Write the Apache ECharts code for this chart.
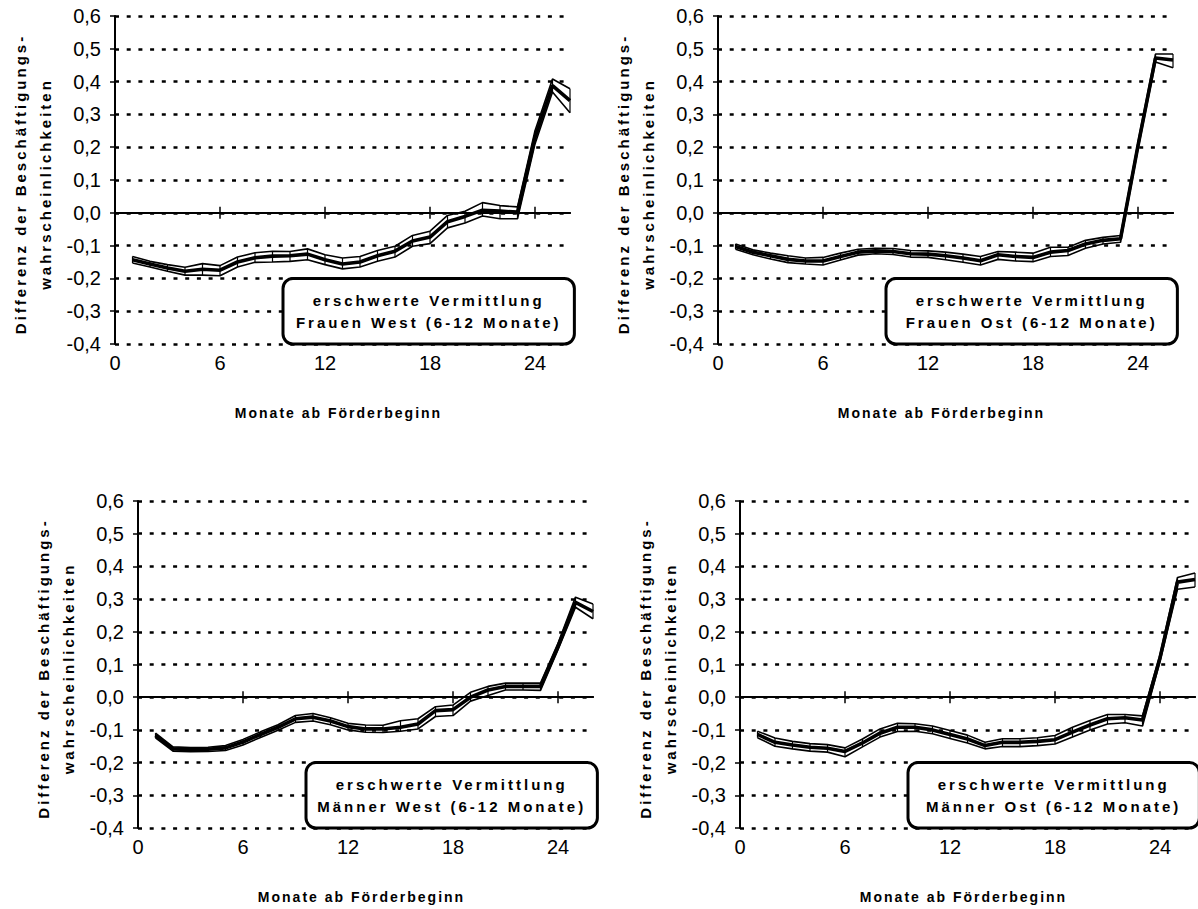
<!DOCTYPE html>
<html>
<head>
<meta charset="utf-8">
<script src="https://cdn.jsdelivr.net/npm/echarts@6/dist/echarts.min.js"></script>
<style>
  html, body { margin: 0; padding: 0; background: #fff; }
  #chart { width: 1198px; height: 909px; }
  #chart text[style*="bold"][style*="15px"] { letter-spacing: 3px; }
  #chart text[style*="bold"][style*="14px"] { letter-spacing: 2px; }
</style>
</head>
<body>
<div id="chart"></div>
<script>
// ---- data ----
const months = [1,2,3,4,5,6,7,8,9,10,11,12,13,14,15,16,17,18,19,20,21,22,23,24,25,26];
const xTickLabels = [0, 6, 12, 18, 24];
const xTickMarks = [6, 12, 18, 24];
const yMin = -0.4, yMax = 0.6, yStep = 0.1;

const xTitle = 'Monate ab Förderbeginn';
const yTitle = ['Differenz der Beschäftigungs-', 'wahrscheinlichkeiten'];

const boxFW = ['erschwerte Vermittlung', 'Frauen West (6-12 Monate)'];
const boxFO = ['erschwerte Vermittlung', 'Frauen Ost (6-12 Monate)'];
const boxMW = ['erschwerte Vermittlung', 'Männer West (6-12 Monate)'];
const boxMO = ['erschwerte Vermittlung', 'Männer Ost (6-12 Monate)'];

// Frauen West
const fwMid = [-0.143,-0.156,-0.168,-0.178,-0.172,-0.175,-0.150,-0.137,-0.132,-0.131,-0.126,-0.143,-0.156,-0.150,-0.131,-0.117,-0.086,-0.074,-0.027,-0.011,0.008,0.005,0.002,0.230,0.388,0.342];
const fwUp  = [-0.133,-0.148,-0.158,-0.166,-0.155,-0.161,-0.135,-0.122,-0.117,-0.118,-0.110,-0.128,-0.138,-0.133,-0.115,-0.102,-0.069,-0.056,-0.008,0.005,0.031,0.022,0.018,0.250,0.408,0.378];
const fwLow = [-0.153,-0.165,-0.178,-0.190,-0.190,-0.192,-0.165,-0.151,-0.150,-0.148,-0.143,-0.158,-0.171,-0.165,-0.148,-0.135,-0.102,-0.094,-0.046,-0.031,-0.010,-0.018,-0.018,0.210,0.368,0.305];

// Frauen Ost
const foMid = [-0.103,-0.120,-0.131,-0.142,-0.147,-0.147,-0.133,-0.120,-0.116,-0.118,-0.125,-0.126,-0.131,-0.138,-0.146,-0.128,-0.133,-0.136,-0.120,-0.115,-0.095,-0.084,-0.079,0.205,0.472,0.466];
const foUp  = [-0.095,-0.113,-0.123,-0.131,-0.138,-0.136,-0.123,-0.111,-0.108,-0.109,-0.115,-0.116,-0.120,-0.126,-0.133,-0.118,-0.120,-0.123,-0.105,-0.105,-0.084,-0.075,-0.069,0.215,0.484,0.484];
const foLow = [-0.111,-0.128,-0.141,-0.152,-0.156,-0.159,-0.144,-0.129,-0.125,-0.127,-0.135,-0.136,-0.143,-0.151,-0.159,-0.142,-0.147,-0.149,-0.133,-0.130,-0.108,-0.095,-0.090,0.195,0.460,0.442];

// Männer West
const mwMid = [-0.117,-0.158,-0.160,-0.159,-0.155,-0.137,-0.114,-0.092,-0.066,-0.061,-0.073,-0.090,-0.097,-0.097,-0.092,-0.082,-0.041,-0.038,0.000,0.022,0.033,0.033,0.033,0.155,0.290,0.262];
const mwUp  = [-0.110,-0.152,-0.154,-0.153,-0.148,-0.129,-0.106,-0.084,-0.056,-0.050,-0.063,-0.080,-0.085,-0.086,-0.072,-0.066,-0.029,-0.024,0.015,0.033,0.043,0.043,0.043,0.165,0.306,0.285];
const mwLow = [-0.124,-0.165,-0.167,-0.166,-0.163,-0.146,-0.123,-0.101,-0.077,-0.073,-0.084,-0.100,-0.107,-0.108,-0.104,-0.097,-0.059,-0.056,-0.012,0.005,0.022,0.022,0.021,0.145,0.275,0.240];

// Männer Ost
const moMid = [-0.114,-0.138,-0.146,-0.153,-0.156,-0.166,-0.140,-0.110,-0.092,-0.092,-0.100,-0.114,-0.128,-0.148,-0.138,-0.138,-0.135,-0.130,-0.107,-0.085,-0.066,-0.063,-0.070,0.120,0.352,0.360];
const moUp  = [-0.104,-0.125,-0.135,-0.142,-0.145,-0.155,-0.128,-0.097,-0.080,-0.081,-0.088,-0.102,-0.116,-0.138,-0.127,-0.127,-0.124,-0.117,-0.092,-0.071,-0.053,-0.053,-0.057,0.130,0.366,0.380];
const moLow = [-0.124,-0.150,-0.158,-0.165,-0.168,-0.182,-0.152,-0.122,-0.105,-0.104,-0.112,-0.126,-0.140,-0.158,-0.151,-0.151,-0.148,-0.143,-0.122,-0.100,-0.082,-0.078,-0.088,0.110,0.330,0.337];

// ---- layout (pixels) ----
const panels = [
  { gl: 115, gt: 16,  gw: 455, gh: 328, mid: fwMid, up: fwUp, low: fwLow, box: boxFW },
  { gl: 718, gt: 16,  gw: 455, gh: 328, mid: foMid, up: foUp, low: foLow, box: boxFO },
  { gl: 138, gt: 501, gw: 455, gh: 327, mid: mwMid, up: mwUp, low: mwLow, box: boxMW },
  { gl: 740, gt: 501, gw: 455, gh: 327, mid: moMid, up: moUp, low: moLow, box: boxMO }
];

const FONT = '"Liberation Sans", Arial, sans-serif';
const grids = [], xAxes = [], yAxes = [], series = [], graphics = [];

panels.forEach((p, i) => {
  grids.push({ left: p.gl, top: p.gt, width: p.gw, height: p.gh, containLabel: false });
  const yMain = 2 * i, yHidden = 2 * i + 1;
  const xLab = 3 * i;

  // labels along the bottom
  xAxes.push({
    gridIndex: i, type: 'value', min: 0, max: 26, interval: 6, position: 'bottom',
    axisLine: { show: false, onZero: false },
    axisTick: { show: false },
    splitLine: { show: false },
    axisLabel: { customValues: xTickLabels, fontSize: 20, color: '#000', fontFamily: FONT, margin: 9 }
  });
  // zero line, ticks downward
  xAxes.push({
    gridIndex: i, type: 'value', min: 0, max: 26, interval: 6, position: 'bottom',
    axisLine: { show: true, onZero: true, onZeroAxisIndex: yMain, lineStyle: { color: '#000', width: 2 } },
    axisTick: { show: true, customValues: xTickMarks, length: 6, lineStyle: { color: '#000', width: 1.5 } },
    axisLabel: { show: false }, splitLine: { show: false }
  });
  // zero line, ticks upward
  xAxes.push({
    gridIndex: i, type: 'value', min: 0, max: 26, interval: 6, position: 'top',
    axisLine: { show: true, onZero: true, onZeroAxisIndex: yHidden, lineStyle: { color: '#000', width: 2 } },
    axisTick: { show: true, customValues: xTickMarks, length: 6, lineStyle: { color: '#000', width: 1.5 } },
    axisLabel: { show: false }, splitLine: { show: false }
  });

  yAxes.push({
    gridIndex: i, type: 'value', min: yMin, max: yMax, interval: yStep, position: 'left',
    axisLine: { show: true, onZero: false, lineStyle: { color: '#000', width: 2 } },
    axisTick: { show: true, length: 5, lineStyle: { color: '#000', width: 1.5 } },
    axisLabel: {
      fontSize: 20, color: '#000', fontFamily: FONT, margin: 14,
      formatter: v => (Math.round(v * 10) / 10).toFixed(1).replace('.', ',')
    },
    splitLine: { show: true, lineStyle: { color: '#000', width: 2.6, type: [4, 7.7] } }
  });
  yAxes.push({
    gridIndex: i, type: 'value', min: yMin, max: yMax, interval: yStep, show: false,
    axisLine: { onZero: false }, splitLine: { show: false }
  });

  // high-low connectors
  series.push({
    type: 'custom', xAxisIndex: xLab, yAxisIndex: yMain, silent: true, z: 2,
    data: months.map((m, k) => [m, p.low[k], p.up[k]]),
    encode: { x: 0, y: [1, 2] },
    renderItem: (params, api) => {
      const a = api.coord([api.value(0), api.value(1)]);
      const b = api.coord([api.value(0), api.value(2)]);
      return { type: 'line', shape: { x1: a[0], y1: a[1], x2: b[0], y2: b[1] },
               style: { stroke: '#000', lineWidth: 1.2 } };
    }
  });
  const lineOf = (vals, w, z) => ({
    type: 'line', xAxisIndex: xLab, yAxisIndex: yMain, showSymbol: false, symbol: 'none',
    silent: true, z: z, animation: false,
    data: months.map((m, k) => [m, vals[k]]),
    lineStyle: { color: '#000', width: w }
  });
  series.push(lineOf(p.up, 1.6, 3));
  series.push(lineOf(p.low, 1.6, 3));
  series.push(lineOf(p.mid, 3.6, 4));

  // axis titles
  const cy = p.gt + p.gh / 2 + 4;
  graphics.push({
    type: 'text', x: p.gl - 95, y: cy, rotation: Math.PI / 2, silent: true,
    style: { text: yTitle[0], font: 'bold 15px ' + FONT, fill: '#000', textAlign: 'center', textVerticalAlign: 'middle' }
  });
  graphics.push({
    type: 'text', x: p.gl - 70, y: cy, rotation: Math.PI / 2, silent: true,
    style: { text: yTitle[1], font: 'bold 15px ' + FONT, fill: '#000', textAlign: 'center', textVerticalAlign: 'middle' }
  });
  graphics.push({
    type: 'text', x: p.gl + p.gw / 2 - 4, y: p.gt + p.gh + 69, silent: true,
    style: { text: xTitle, font: 'bold 14px ' + FONT, fill: '#000', textAlign: 'center', textVerticalAlign: 'middle' }
  });

  // label box
  const bx = p.gl + 9.6 / 26 * p.gw, bw = (26.25 - 9.6) / 26 * p.gw;
  const by = p.gt + 0.8 * p.gh, bh = 0.2 * p.gh;
  graphics.push({
    type: 'rect', z: 10, silent: true,
    shape: { x: bx, y: by, width: bw, height: bh, r: 10 },
    style: { fill: '#fff', stroke: '#000', lineWidth: 3 }
  });
  graphics.push({
    type: 'text', z: 11, x: bx + bw / 2, y: by + bh / 2 - 11, silent: true,
    style: { text: p.box[0], font: 'bold 15px ' + FONT, fill: '#000', textAlign: 'center', textVerticalAlign: 'middle' }
  });
  graphics.push({
    type: 'text', z: 11, x: bx + bw / 2, y: by + bh / 2 + 11, silent: true,
    style: { text: p.box[1], font: 'bold 15px ' + FONT, fill: '#000', textAlign: 'center', textVerticalAlign: 'middle' }
  });
});

const chart = echarts.init(document.getElementById('chart'), null, { renderer: 'svg', width: 1198, height: 909 });
chart.setOption({
  animation: false,
  backgroundColor: '#fff',
  grid: grids,
  xAxis: xAxes,
  yAxis: yAxes,
  series: series,
  graphic: graphics
});
</script>
</body>
</html>
